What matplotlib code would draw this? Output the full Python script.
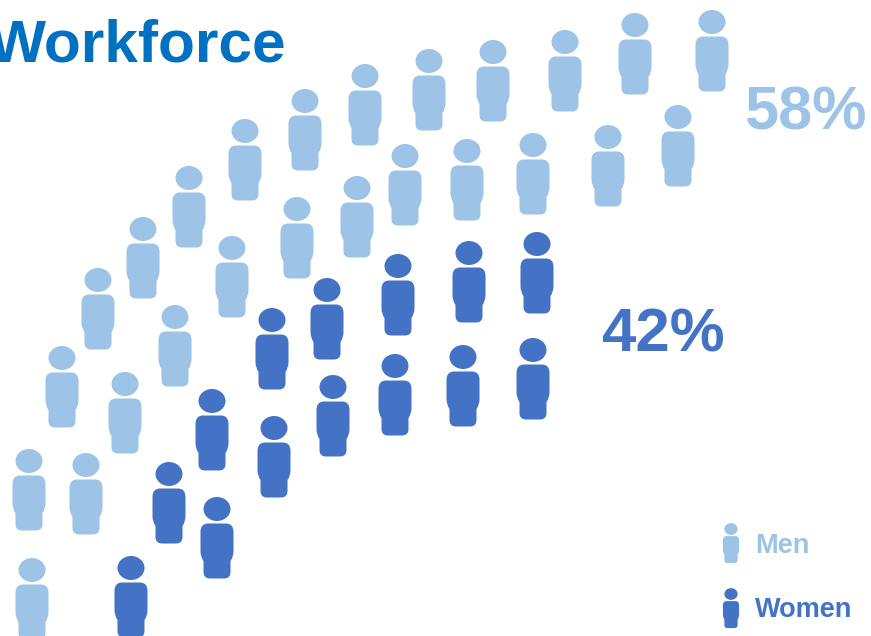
import numpy as np
import matplotlib
matplotlib.use('Agg')
import matplotlib.pyplot as plt
from matplotlib.path import Path
from matplotlib.patches import PathPatch
from matplotlib.transforms import Affine2D

plt.rcParams['font.family'] = ['Liberation Sans', 'DejaVu Sans']

# Head centres of each figure, in pixels from the top left corner
men_x = [32, 29, 62, 98, 143, 189, 245, 305, 365, 429, 493, 565, 635, 712,
         86, 125, 175, 232, 297, 357, 405, 467, 533, 608, 678]
men_y = [570, 461, 358, 280, 229, 178, 131, 101, 76, 61, 52, 42, 25, 22,
         465, 384, 317, 248, 209, 188, 156, 151, 145, 137, 117]
women_x = [131, 217, 169, 274, 212, 333, 272, 395, 327, 463, 398, 533, 469, 537]
women_y = [568, 509, 474, 428, 401, 387, 320, 366, 290, 357, 266, 350, 253, 244]

men_share = '58%'
women_share = '42%'
title = 'Workforce'
legend_labels = ['Men', 'Women']

men_color = '#9DC3E6'
women_color = '#4472C4'
title_color = '#0070C0'


def person_shape():
    # Head ellipse plus a rounded torso with narrower legs, y pointing down
    head = Path.unit_circle().transformed(Affine2D().scale(13.5, 12))
    c = Path.CURVE3
    verts = [(-9, 14.5), (9, 14.5), (16.5, 14.5), (16.5, 23), (16.5, 42), (16.5, 48),
             (13.5, 52), (13.5, 63), (13.5, 69.5), (7, 69.5), (-7, 69.5), (-13.5, 69.5),
             (-13.5, 63), (-13.5, 52), (-16.5, 48), (-16.5, 42), (-16.5, 23),
             (-16.5, 14.5), (-9, 14.5), (-9, 14.5)]
    codes = [Path.MOVETO, Path.LINETO, c, c, Path.LINETO, c, c, Path.LINETO,
             c, c, Path.LINETO, c, c, Path.LINETO, c, c, Path.LINETO, c, c,
             Path.CLOSEPOLY]
    return Path.make_compound_path(head, Path(verts, codes))


shape = person_shape()


def draw_person(ax, x, y, color, scale=1.0):
    tr = Affine2D().scale(scale).translate(x, y) + ax.transData
    ax.add_patch(PathPatch(shape, transform=tr, facecolor=color, edgecolor='none'))


fig = plt.figure(figsize=(8.71, 6.36), dpi=100)
ax = fig.add_axes([0, 0, 1, 1])
ax.set_xlim(0, 871)
ax.set_ylim(636, 0)
ax.axis('off')

for x, y in zip(men_x, men_y):
    draw_person(ax, x, y, men_color)
for x, y in zip(women_x, women_y):
    draw_person(ax, x, y, women_color)

# Legend icons
draw_person(ax, 731, 529, men_color, 0.49)
draw_person(ax, 731, 594, women_color, 0.49)

# Title runs slightly past the left edge
ax.text(-11, 62, title, color=title_color, fontsize=43.5, fontweight='bold', va='baseline', clip_on=True)
ax.text(744, 130, men_share, color=men_color, fontsize=44, fontweight='bold', va='baseline')
ax.text(601, 351, women_share, color=women_color, fontsize=44.5, fontweight='bold', va='baseline')
ax.text(755, 553, legend_labels[0], color=men_color, fontsize=19.5, fontweight='bold', va='baseline')
ax.text(755, 617, legend_labels[1], color=women_color, fontsize=19.5, fontweight='bold', va='baseline')

fig.savefig('out.png', dpi=100)
